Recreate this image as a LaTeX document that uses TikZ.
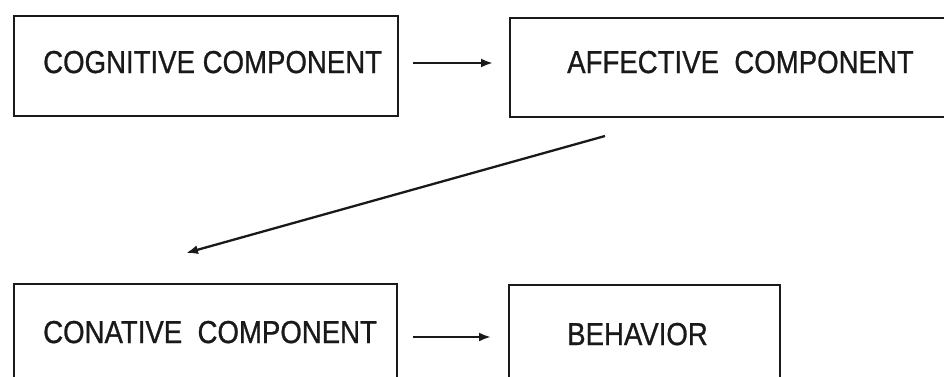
\documentclass[tikz,border=0pt]{standalone}
\usepackage{fontspec}
\setmainfont{Liberation Sans}
\newfontfamily\diagfont[FakeBold=0.9]{Liberation Sans}
\usetikzlibrary{arrows.meta}
\begin{document}
\begin{tikzpicture}[x=1pt,y=-1pt,
  box/.style={draw=black!90,line width=1.8pt,rectangle,inner sep=0pt,anchor=north west},
  lbl/.style={inner sep=0pt,anchor=base west,text=black!90,font=\diagfont\fontsize{27.6}{30}\selectfont},
  arr/.style={draw=black!90,line width=2.3pt,-{Latex[length=12pt,width=9pt]}}]
\useasboundingbox (0,0) rectangle (944,376);
\begin{scope}
\clip (0,0) rectangle (944,376);
\node[box,minimum width=384pt,minimum height=100pt] (cog) at (13,15) {};
\node[box,minimum width=460pt,minimum height=99pt] (aff) at (509,17) {};
\node[box,minimum width=383pt,minimum height=110pt] (con) at (13,283) {};
\node[box,minimum width=271pt,minimum height=110pt] (beh) at (508,284) {};
\end{scope}
\node[lbl] (tcog) at (43,73) {\scalebox{1}[1.15]{COGNITIVE COMPONENT}};
\node[lbl] (taff) at (567,73) {\scalebox{1}[1.15]{AFFECTIVE\ \ COMPONENT}};
\node[lbl] (tcon) at (43,343) {\scalebox{1}[1.15]{CONATIVE\ \ COMPONENT}};
\node[lbl] (tbeh) at (567,345) {\scalebox{1}[1.15]{BEHAVIOR}};
\coordinate (a1) at (413,63);
\coordinate (a2) at (493,63);
\coordinate (d1) at (605,136);
\coordinate (d2) at (186,253);
\coordinate (b1) at (413,337);
\coordinate (b2) at (491,337);
\draw[arr] (a1) -- (a2);
\draw[arr] (d1) -- (d2);
\draw[arr] (b1) -- (b2);
\end{tikzpicture}
\end{document}
